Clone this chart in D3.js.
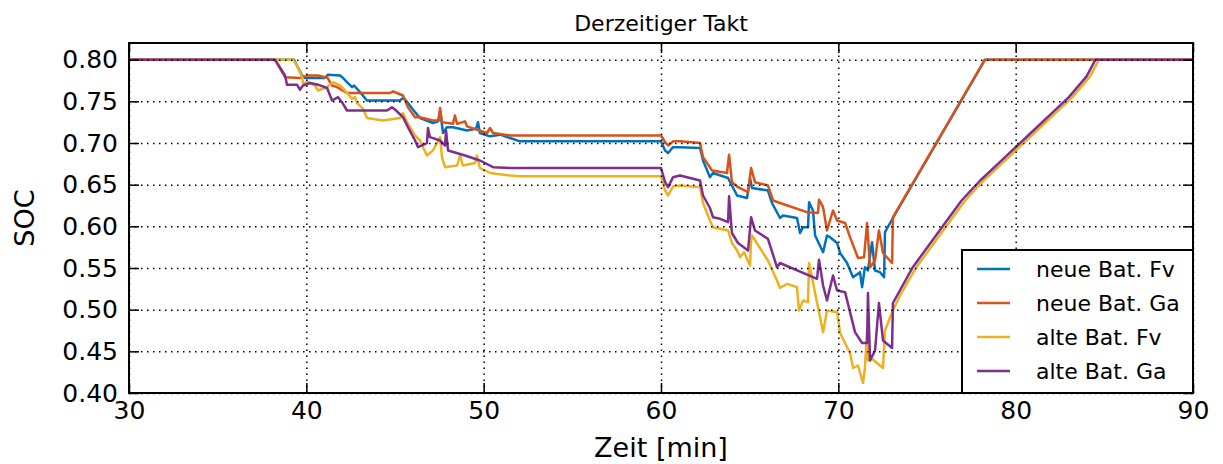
<!DOCTYPE html>
<html>
<head>
<meta charset="utf-8">
<script src="https://cdn.jsdelivr.net/npm/d3@7"></script>
<style>
  body { margin: 0; background: #fff; }
  text { font-family: 'DejaVu Sans', sans-serif; fill: #000; }
</style>
</head>
<body>
<div id="chart"></div>
<script>
// Zeit [min], SOC
const neueFv = [
	[30, 0.800], [39.30, 0.800], [39.76, 0.781], [39.93, 0.778], [41.05, 0.778], [41.22, 0.782], [41.90, 0.781],
	[42.07, 0.778], [42.29, 0.773], [42.58, 0.767], [42.69, 0.769], [43.03, 0.761], [43.42, 0.751], [45.28, 0.751],
	[45.45, 0.754], [45.62, 0.751], [46.13, 0.737], [46.41, 0.730], [47.14, 0.724], [47.43, 0.726], [47.54, 0.739],
	[47.71, 0.712], [47.93, 0.719], [48.27, 0.719], [49.06, 0.715], [49.57, 0.717], [49.68, 0.725], [49.79, 0.712],
	[50.36, 0.708], [50.92, 0.710], [51.49, 0.706], [52.05, 0.702], [60.00, 0.702], [60.23, 0.691], [60.40, 0.688],
	[60.68, 0.695], [61.07, 0.695], [62.20, 0.694], [62.37, 0.679], [62.76, 0.659], [62.93, 0.664], [63.78, 0.658],
	[64.00, 0.649], [64.29, 0.637], [64.85, 0.634], [65.02, 0.658], [65.13, 0.646], [66.03, 0.643], [66.26, 0.628],
	[66.71, 0.610], [66.88, 0.613], [67.67, 0.610], [67.84, 0.592], [68.01, 0.599], [68.29, 0.599], [68.35, 0.629],
	[68.57, 0.619], [68.69, 0.589], [69.14, 0.569], [69.36, 0.589], [69.53, 0.587], [69.93, 0.580], [70.10, 0.568],
	[70.49, 0.556], [70.83, 0.539], [71.22, 0.545], [71.34, 0.527], [71.50, 0.551], [71.67, 0.547], [71.90, 0.581],
	[72.07, 0.547], [72.35, 0.545], [72.58, 0.539], [72.63, 0.593], [73.08, 0.610], [78.27, 0.800], [90, 0.800]
];

const neueGa = [
	[30, 0.800], [38.23, 0.800], [38.80, 0.779], [39.64, 0.778], [39.81, 0.779], [40.09, 0.781], [40.66, 0.781],
	[41.05, 0.779], [41.17, 0.779], [41.45, 0.769], [41.73, 0.767], [42.29, 0.760], [44.72, 0.760], [44.89, 0.762],
	[45.11, 0.760], [45.45, 0.757], [45.73, 0.743], [46.13, 0.731], [46.41, 0.731], [47.14, 0.727], [47.48, 0.727],
	[47.54, 0.742], [47.65, 0.725], [48.27, 0.723], [48.38, 0.733], [48.50, 0.723], [48.95, 0.726], [49.06, 0.720],
	[50.19, 0.712], [50.36, 0.718], [50.53, 0.712], [51.49, 0.709], [60.00, 0.709], [60.23, 0.701], [60.40, 0.697],
	[60.68, 0.702], [61.07, 0.702], [62.20, 0.700], [62.37, 0.683], [62.88, 0.667], [63.72, 0.664], [63.84, 0.686],
	[64.00, 0.653], [64.34, 0.647], [64.91, 0.641], [65.08, 0.670], [65.30, 0.653], [66.03, 0.649], [66.32, 0.631],
	[66.71, 0.628], [68.23, 0.617], [68.85, 0.616], [68.91, 0.632], [69.14, 0.623], [69.36, 0.595], [69.70, 0.619],
	[69.93, 0.607], [70.38, 0.604], [70.66, 0.587], [71.11, 0.562], [71.45, 0.563], [71.62, 0.604], [71.79, 0.551],
	[72.07, 0.559], [72.29, 0.595], [72.52, 0.568], [73.03, 0.556], [73.08, 0.611], [78.27, 0.800], [90, 0.800]
];

const alteFv = [
	[30, 0.800], [39.25, 0.800], [39.47, 0.793], [39.76, 0.779], [39.81, 0.772], [40.09, 0.773], [40.49, 0.769],
	[40.66, 0.763], [41.17, 0.767], [41.50, 0.773], [41.90, 0.769], [42.18, 0.763], [42.58, 0.753], [42.74, 0.755],
	[42.86, 0.748], [43.20, 0.741], [43.42, 0.730], [44.32, 0.727], [45.28, 0.730], [45.45, 0.736], [45.68, 0.725],
	[46.13, 0.709], [46.41, 0.703], [46.80, 0.685], [47.14, 0.691], [47.54, 0.707], [47.65, 0.683], [47.82, 0.671],
	[48.50, 0.673], [48.67, 0.685], [48.83, 0.673], [49.51, 0.676], [49.62, 0.685], [49.79, 0.670], [50.36, 0.664],
	[51.49, 0.661], [52.05, 0.660], [60.00, 0.660], [60.23, 0.643], [60.40, 0.637], [60.68, 0.648], [61.07, 0.649],
	[62.20, 0.647], [62.37, 0.628], [62.76, 0.607], [62.93, 0.599], [63.78, 0.595], [64.00, 0.580], [64.29, 0.571],
	[64.46, 0.563], [64.68, 0.569], [65.02, 0.553], [65.08, 0.583], [65.13, 0.589], [66.03, 0.559], [66.54, 0.535],
	[66.71, 0.526], [67.11, 0.531], [67.67, 0.527], [67.78, 0.499], [68.01, 0.511], [68.29, 0.509], [68.35, 0.556],
	[68.69, 0.520], [69.14, 0.473], [69.36, 0.499], [69.93, 0.497], [70.10, 0.472], [70.66, 0.448], [70.83, 0.430],
	[71.11, 0.433], [71.39, 0.412], [71.50, 0.430], [71.62, 0.475], [71.67, 0.439], [71.90, 0.441], [72.35, 0.433],
	[72.52, 0.430], [72.63, 0.475], [73.08, 0.499], [73.48, 0.517], [74.40, 0.551], [77.15, 0.631], [78.2, 0.655],
	[79.2, 0.675], [80.2, 0.695], [81.2, 0.715], [82.2, 0.735], [83.2, 0.755], [84.2, 0.780], [84.7, 0.800], [90, 0.800]
];

const alteGa = [
	[30, 0.800], [38.23, 0.800], [38.80, 0.781], [38.91, 0.770], [39.47, 0.770], [39.64, 0.764], [39.81, 0.769],
	[40.21, 0.772], [40.66, 0.770], [41.17, 0.766], [41.45, 0.751], [41.79, 0.755], [42.01, 0.749], [42.29, 0.739],
	[44.55, 0.739], [44.83, 0.743], [45.06, 0.739], [45.45, 0.731], [45.73, 0.719], [46.13, 0.703], [46.30, 0.695],
	[46.80, 0.700], [46.86, 0.718], [46.97, 0.707], [47.54, 0.703], [47.82, 0.697], [47.88, 0.715], [47.99, 0.691],
	[48.95, 0.685], [49.79, 0.679], [50.53, 0.671], [51.49, 0.670], [60.00, 0.670], [60.23, 0.653], [60.40, 0.647],
	[60.68, 0.659], [61.07, 0.661], [62.20, 0.655], [62.37, 0.637], [62.76, 0.622], [62.93, 0.611], [63.33, 0.609],
	[63.78, 0.605], [63.84, 0.636], [64.00, 0.592], [64.34, 0.580], [64.91, 0.571], [65.08, 0.611], [65.30, 0.595],
	[66.03, 0.585], [66.54, 0.551], [66.71, 0.556], [68.80, 0.537], [68.91, 0.560], [69.14, 0.529], [69.36, 0.511],
	[69.70, 0.541], [69.93, 0.523], [70.38, 0.521], [70.94, 0.473], [71.34, 0.460], [71.62, 0.460], [71.67, 0.520],
	[71.79, 0.439], [72.07, 0.451], [72.29, 0.508], [72.52, 0.463], [73.03, 0.454], [73.08, 0.508], [74.20, 0.551],
	[76.95, 0.631], [78.0, 0.655], [79.0, 0.675], [80.0, 0.695], [81.0, 0.715], [82.0, 0.735], [83.0, 0.755],
	[84.0, 0.780], [84.5, 0.800], [90, 0.800]
];

const seriesNames = ['neue Bat. Fv', 'neue Bat. Ga', 'alte Bat. Fv', 'alte Bat. Ga'];
const seriesColors = ['#0072bd', '#d95319', '#edb120', '#7e2f8e'];
const xTicks = [30, 40, 50, 60, 70, 80, 90];
const yTicks = [0.40, 0.45, 0.50, 0.55, 0.60, 0.65, 0.70, 0.75, 0.80];

const allSeries = [neueFv, neueGa, alteFv, alteGa];

const docWidth = 1223;
const docHeight = 464;
const margin = { top: 43, right: 30, bottom: 71, left: 129 };
const width = docWidth - margin.left - margin.right;
const height = docHeight - margin.top - margin.bottom;

const svg = d3
	.select('#chart')
	.append('svg')
	.attr('width', docWidth)
	.attr('height', docHeight)
	.append('g')
	.attr('transform', `translate(${margin.left}, ${margin.top})`);

const xScale = d3.scaleLinear().domain([ 30, 90 ]).range([ 0, width ]);
const yScale = d3.scaleLinear().domain([ 0.4, 0.82 ]).range([ height, 0 ]);

const line = d3.line().x((d) => xScale(d[0])).y((d) => yScale(d[1]));

// data lines
svg
	.selectAll('.series')
	.data(allSeries)
	.enter()
	.append('path')
	.attr('class', 'series')
	.attr('d', line)
	.style('fill', 'none')
	.attr('stroke', (d, i) => seriesColors[i])
	.attr('stroke-width', 2.5)
	.attr('stroke-linejoin', 'round');

// dotted grid (drawn above the lines, like the original)
const gridX = svg
	.append('g')
	.attr('transform', `translate(0, ${height})`)
	.call(d3.axisBottom(xScale).tickValues(xTicks).tickSize(-height).tickFormat(''));
const gridY = svg.append('g').call(d3.axisLeft(yScale).tickValues(yTicks).tickSize(-width).tickFormat(''));
[ gridX, gridY ].forEach((g) => {
	g.select('.domain').remove();
	g.selectAll('line').attr('stroke', '#000').attr('stroke-width', 1.5).attr('stroke-dasharray', '1.5,4.5');
});

// axes with inward ticks
const tickFont = '25px';
const axB = svg
	.append('g')
	.attr('transform', `translate(0, ${height})`)
	.call(d3.axisBottom(xScale).tickValues(xTicks).tickSize(-10).tickPadding(8).tickFormat(d3.format('d')));
const axL = svg
	.append('g')
	.call(d3.axisLeft(yScale).tickValues(yTicks).tickSize(-10).tickPadding(11).tickFormat(d3.format('.2f')));
const axT = svg.append('g').call(d3.axisTop(xScale).tickValues(xTicks).tickSize(-10).tickFormat(''));
const axR = svg
	.append('g')
	.attr('transform', `translate(${width}, 0)`)
	.call(d3.axisRight(yScale).tickValues(yTicks).tickSize(-10).tickFormat(''));
[ axB, axL, axT, axR ].forEach((g) => {
	g.select('.domain').remove();
	g.selectAll('line').attr('stroke', '#000').attr('stroke-width', 1.5);
	g.selectAll('text').style('font-size', tickFont).style('font-family', "'DejaVu Sans', sans-serif").attr('fill', '#000');
});

// frame
svg
	.append('rect')
	.attr('width', width)
	.attr('height', height)
	.style('fill', 'none')
	.style('stroke', '#000')
	.style('stroke-width', 2);

// title and axis labels
svg
	.append('text')
	.attr('x', width / 2)
	.attr('y', -12)
	.attr('text-anchor', 'middle')
	.style('font-size', '22px')
	.text('Derzeitiger Takt');

svg
	.append('text')
	.attr('x', width / 2)
	.attr('y', height + 64)
	.attr('text-anchor', 'middle')
	.style('font-size', '27px')
	.text('Zeit [min]');

svg
	.append('text')
	.attr('transform', `translate(${34 - margin.left}, ${height / 2}) rotate(-90)`)
	.attr('text-anchor', 'middle')
	.style('font-size', '27px')
	.text('SOC');

// legend
const legend = svg.append('g').attr('transform', `translate(${width - 231}, ${height - 143})`);
legend
	.append('rect')
	.attr('width', 231)
	.attr('height', 143)
	.style('fill', '#fff')
	.style('stroke', '#000')
	.style('stroke-width', 2);

const entries = legend
	.selectAll('.entry')
	.data(seriesNames)
	.enter()
	.append('g')
	.attr('class', 'entry')
	.attr('transform', (d, i) => `translate(0, ${19 + i * 34})`);

entries
	.append('line')
	.attr('x1', 15)
	.attr('x2', 48)
	.attr('stroke', (d, i) => seriesColors[i])
	.attr('stroke-width', 2.5);

entries
	.append('text')
	.attr('x', 74)
	.attr('dy', '0.35em')
	.style('font-size', '22px')
	.text((d) => d);
</script>
</body>
</html>
